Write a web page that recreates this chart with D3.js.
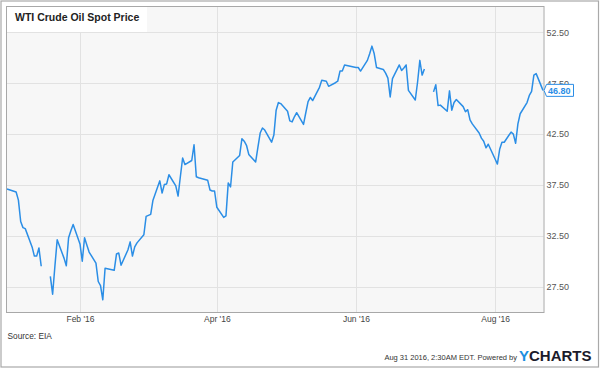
<!DOCTYPE html>
<html><head><meta charset="utf-8">
<script src="https://cdn.jsdelivr.net/npm/d3@7"></script>
<style>
body{margin:0;background:#fff;}
svg{display:block;font-family:"Liberation Sans",Arial,sans-serif;}
</style>
</head><body>
<svg id="c" width="600" height="369"></svg>
<script>
const dates = [
"2015-12-31","2016-01-04","2016-01-05","2016-01-06","2016-01-07","2016-01-08","2016-01-11","2016-01-12","2016-01-13","2016-01-14","2016-01-15","2016-01-18","2016-01-19","2016-01-20","2016-01-21","2016-01-22","2016-01-25","2016-01-26","2016-01-27","2016-01-28","2016-01-29",
"2016-02-01","2016-02-02","2016-02-03","2016-02-04","2016-02-05","2016-02-08","2016-02-09","2016-02-10","2016-02-11","2016-02-12","2016-02-16","2016-02-17","2016-02-18","2016-02-19","2016-02-22","2016-02-23","2016-02-24","2016-02-25","2016-02-26","2016-02-29",
"2016-03-01","2016-03-02","2016-03-03","2016-03-04","2016-03-07","2016-03-08","2016-03-09","2016-03-10","2016-03-11","2016-03-14","2016-03-15","2016-03-16","2016-03-17","2016-03-18","2016-03-21","2016-03-22","2016-03-23","2016-03-24","2016-03-28","2016-03-29","2016-03-30","2016-03-31",
"2016-04-01","2016-04-04","2016-04-05","2016-04-06","2016-04-07","2016-04-08","2016-04-11","2016-04-12","2016-04-13","2016-04-14","2016-04-15","2016-04-18","2016-04-19","2016-04-20","2016-04-21","2016-04-22","2016-04-25","2016-04-26","2016-04-27","2016-04-28","2016-04-29",
"2016-05-02","2016-05-03","2016-05-04","2016-05-05","2016-05-06","2016-05-09","2016-05-10","2016-05-11","2016-05-12","2016-05-13","2016-05-16","2016-05-17","2016-05-18","2016-05-19","2016-05-20","2016-05-23","2016-05-24","2016-05-25","2016-05-26","2016-05-27","2016-05-31",
"2016-06-01","2016-06-02","2016-06-03","2016-06-06","2016-06-07","2016-06-08","2016-06-09","2016-06-10","2016-06-13","2016-06-14","2016-06-15","2016-06-16","2016-06-17","2016-06-20","2016-06-21","2016-06-22","2016-06-23","2016-06-24","2016-06-27","2016-06-28","2016-06-29","2016-06-30",
"2016-07-01","2016-07-04","2016-07-05","2016-07-06","2016-07-07","2016-07-08","2016-07-11","2016-07-12","2016-07-13","2016-07-14","2016-07-15","2016-07-18","2016-07-19","2016-07-20","2016-07-21","2016-07-22","2016-07-25","2016-07-26","2016-07-27","2016-07-28","2016-07-29",
"2016-08-01","2016-08-02","2016-08-03","2016-08-04","2016-08-05","2016-08-08","2016-08-09","2016-08-10","2016-08-11","2016-08-12","2016-08-15","2016-08-16","2016-08-17","2016-08-18","2016-08-19","2016-08-22"
];
const prices = [
37.1,36.8,36.0,33.9,33.3,33.2,31.4,30.5,30.5,31.3,29.5,null,28.5,26.75,29.5,32.1,30.3,29.55,32.3,33.0,33.6,
31.7,30.0,32.3,31.6,30.9,29.8,28.0,27.6,26.2,29.3,29.1,30.7,30.8,29.6,31.1,31.9,30.5,31.4,31.8,32.6,
34.4,34.5,34.6,36.0,37.9,36.7,37.55,37.6,38.5,37.4,36.4,38.3,40.15,39.5,39.9,41.45,38.3,38.2,37.95,37.0,36.9,36.9,
35.3,34.3,34.45,37.7,37.3,39.75,40.4,42.05,41.8,41.4,40.5,39.75,41.2,42.6,43.1,42.9,41.7,42.4,44.85,45.6,45.5,
44.75,43.8,43.7,44.2,44.6,43.45,44.6,45.7,46.1,45.8,47.1,47.8,47.75,47.7,47.2,47.55,47.7,48.7,48.7,49.3,49.1,
49.05,49.05,48.7,49.75,50.4,51.15,50.4,49.05,48.85,48.5,48.0,46.15,47.95,49.3,48.75,49.0,49.3,46.8,45.85,47.6,49.75,48.3,
48.9,null,46.65,47.35,45.3,45.35,44.75,46.75,44.85,45.6,45.9,45.2,44.7,44.9,43.9,43.5,42.6,42.1,41.8,41.15,41.5,
40.05,39.55,41.0,41.7,41.7,42.7,42.5,41.6,43.5,44.5,45.6,46.3,46.7,48.3,48.45,46.8
];
const yTicks = [27.5, 32.5, 37.5, 42.5, 47.5, 52.5];
const xTickDates = ["2016-02-01","2016-04-01","2016-06-01","2016-08-01"];
const xTickLabels = ["Feb '16","Apr '16","Jun '16","Aug '16"];
const titleText = "WTI Crude Oil Spot Price";
const sourceText = "Source: EIA";
const footerText = "Aug 31 2016, 2:30AM EDT.  Powered by";
const lastValue = 46.80;

const parse = d3.utcParse("%Y-%m-%d");
const data = dates.map((d, i) => ({date: parse(d), v: prices[i]}));

const W = 600, H = 369;
const L = 7, R = 543.5, T = 7, B = 312;
const blue = "#2b8ee6";

const svg = d3.select("#c");
svg.append("rect").attr("x",1).attr("y",1).attr("width",W-2.5).attr("height",H-3)
  .attr("fill","#fff").attr("stroke","#a9a9a9").attr("stroke-width",1.2);

const x = d3.scaleUtc().domain([parse("2015-12-31"), parse("2016-08-22")]).range([L, 543]);
const y = d3.scaleLinear().domain([25, 55]).range([B, T]);

svg.append("rect").attr("x",L).attr("y",T).attr("width",R-L).attr("height",B-T).attr("fill","#f7f7f7");

// grid
const g = svg.append("g");
g.selectAll(".hg").data(yTicks).join("line")
  .attr("x1",L).attr("x2",R).attr("y1",d=>Math.round(y(d))+0.5).attr("y2",d=>Math.round(y(d))+0.5)
  .attr("stroke","#e2e2e2").attr("stroke-width",1);
g.selectAll(".vg").data(xTickDates.map(parse)).join("line")
  .attr("x1",d=>Math.round(x(d))+0.5).attr("x2",d=>Math.round(x(d))+0.5).attr("y1",T).attr("y2",B)
  .attr("stroke","#e2e2e2").attr("stroke-width",1);

// line
const line = d3.line().defined(d => d.v != null).x(d => x(d.date)).y(d => y(d.v));
svg.append("path").datum(data).attr("d", line).attr("fill","none")
  .attr("stroke", blue).attr("stroke-width",1.5).attr("stroke-linejoin","round");

// plot border
svg.append("rect").attr("x",L-0.5).attr("y",T-0.5).attr("width",R-L+1).attr("height",B-T+1)
  .attr("fill","none").attr("stroke","#a8a8a8").attr("stroke-width",1);

// y axis
const ya = svg.append("g").attr("transform",`translate(${R},0)`)
  .call(d3.axisRight(y).tickValues(yTicks).tickFormat(d3.format(".2f")).tickSize(0).tickPadding(3));
ya.select(".domain").remove();
ya.selectAll("text").attr("font-size","9px").attr("fill","#555").attr("font-family","Liberation Sans, Arial, sans-serif");

// x axis
const xa = svg.append("g").attr("transform",`translate(0,${B})`)
  .call(d3.axisBottom(x).tickValues(xTickDates.map(parse)).tickFormat((d,i)=>xTickLabels[i]).tickSize(0).tickPadding(4));
xa.select(".domain").remove();
xa.selectAll("text").attr("font-size","8.5px").attr("fill","#444").attr("font-family","Liberation Sans, Arial, sans-serif");

// last value label
const ly = y(lastValue);
svg.append("path")
  .attr("d",`M${R+0.5},${ly} L${R+3},${ly-6} L573.5,${ly-6} L573.5,${ly+6} L${R+3},${ly+6} Z`)
  .attr("fill","#fff").attr("stroke",blue).attr("stroke-width",1);
svg.append("text").attr("x",548).attr("y",ly+3.2).text(d3.format(".2f")(lastValue))
  .attr("font-size","9px").attr("font-weight","bold").attr("fill",blue);

// title
svg.append("rect").attr("x",L).attr("y",T).attr("width",140).attr("height",25).attr("fill","#fff");
svg.append("text").attr("x",15).attr("y",21).text(titleText)
  .attr("font-size","10.5px").attr("font-weight","bold").attr("fill","#222");

// source and footer
svg.append("text").attr("x",7.5).attr("y",339).text(sourceText)
  .attr("font-size","8.3px").attr("fill","#333");
svg.append("text").attr("x",517).attr("y",360).attr("text-anchor","end").text(footerText)
  .attr("font-size","7.5px").attr("fill","#333");
const logo = svg.append("text").attr("x",519).attr("y",361).attr("font-size","15px").attr("font-weight","bold");
logo.append("tspan").attr("fill","#1d8fe0").text("Y");
logo.append("tspan").attr("fill","#1b1b2b").text("CHARTS");
</script>
</body></html>
